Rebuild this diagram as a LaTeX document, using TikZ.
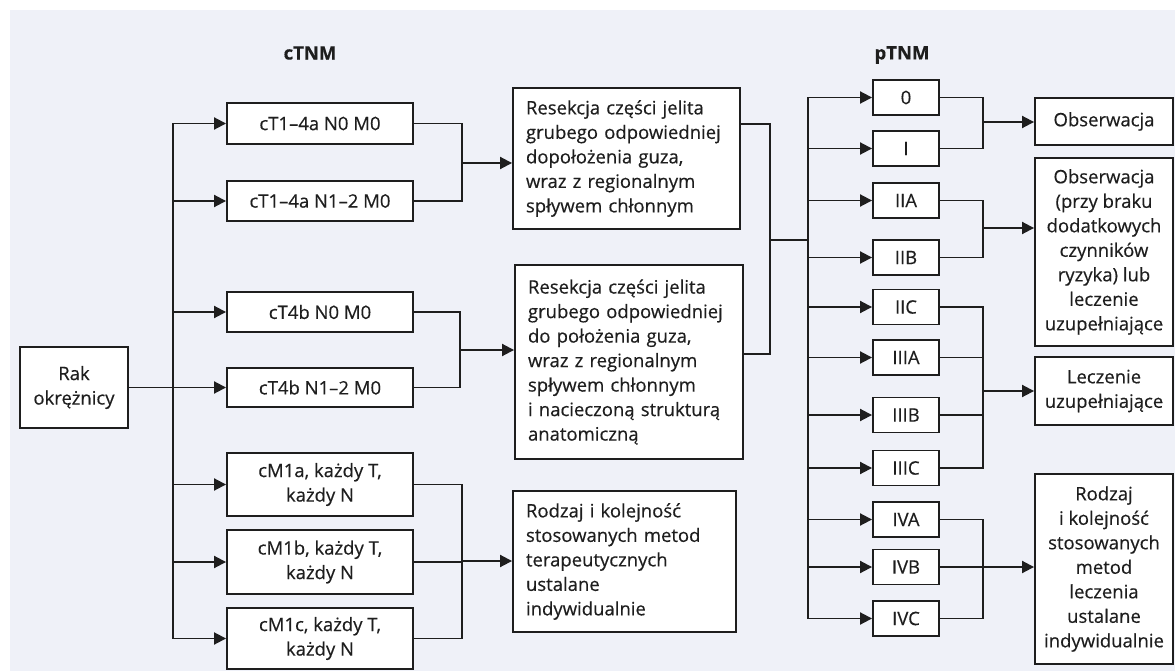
\documentclass[tikz,border=0pt]{standalone}
\usepackage{fontspec}
\setmainfont{Open Sans}[FakeBold=0.35]
\usetikzlibrary{arrows.meta}
\definecolor{panel}{RGB}{239,241,248}
\definecolor{ink}{RGB}{30,30,30}

\begin{document}
\begin{tikzpicture}[x=1pt,y=-1pt]
    \tikzstyle{every node}=[font={\fontsize{18.5}{24.5}\selectfont}, text=ink]
    \tikzstyle{box}=[draw=ink, fill=white, line width=1.9pt, inner sep=2pt, align=center]
    \tikzstyle{textbox}=[box, align=left, inner xsep=13pt]
    \tikzstyle{line}=[draw=ink, line width=1.9pt]
    \tikzstyle{arr}=[line, -{Triangle[length=12pt,width=12pt]}]
    \useasboundingbox (0,0) rectangle (1175,671);
    \fill[panel] (10,10) rectangle (1175,671);

    \node[font={\bfseries\fontsize{18.5}{24.5}\selectfont}] (ctnm) at (310,53) {cTNM};
    \node[font={\bfseries\fontsize{18.5}{24.5}\selectfont}] (ptnm) at (902,55) {pTNM};

    \node[box, minimum width=108pt, minimum height=81pt] (rak) at (74,387.5) {Rak\\okrężnicy};

    \node[box, minimum width=186pt, minimum height=41pt] (c1) at (320,123.5) {cT1–4a N0 M0};
    \node[box, minimum width=186pt, minimum height=40pt] (c2) at (320,201) {cT1–4a N1–2 M0};
    \node[box, minimum width=186pt, minimum height=40pt] (c3) at (320,312) {cT4b N0 M0};
    \node[box, minimum width=186pt, minimum height=39pt] (c4) at (320,387.5) {cT4b N1–2 M0};
    \node[box, minimum width=186pt, minimum height=63pt] (c5) at (320,484.5) {cM1a, każdy T,\\każdy N};
    \node[box, minimum width=186pt, minimum height=64pt] (c6) at (320,562) {cM1b, każdy T,\\każdy N};
    \node[box, minimum width=186pt, minimum height=61pt] (c7) at (320,638.5) {cM1c, każdy T,\\każdy N};

    \node[textbox, text width=201pt, minimum height=141pt] (res1) at (626.5,158.5)
        {Resekcja części jelita\\grubego odpowiedniej\\dopołożenia guza,\\wraz z regionalnym\\spływem chłonnym};
    \node[textbox, text width=202pt, minimum height=194pt] (res2) at (629,362)
        {Resekcja części jelita\\grubego odpowiedniej\\do położenia guza,\\wraz z regionalnym\\spływem chłonnym\\i nacieczoną strukturą\\anatomiczną};
    \node[textbox, text width=197pt, minimum height=141pt] (rodz) at (624.5,561.5)
        {Rodzaj i kolejność\\stosowanych metod\\terapeutycznych\\ustalane\\indywidualnie};

    \node[box, minimum width=66pt, minimum height=35pt] (p0) at (906,97.5) {0};
    \node[box, minimum width=66pt, minimum height=35pt] (p1) at (906,148.5) {I};
    \node[box, minimum width=66pt, minimum height=35pt] (p2a) at (906,200.5) {IIA};
    \node[box, minimum width=66pt, minimum height=35pt] (p2b) at (906,257.5) {IIB};
    \node[box, minimum width=66pt, minimum height=35pt] (p2c) at (906,307) {IIC};
    \node[box, minimum width=66pt, minimum height=35pt] (p3a) at (906,357.5) {IIIA};
    \node[box, minimum width=66pt, minimum height=35pt] (p3b) at (906,415) {IIIB};
    \node[box, minimum width=66pt, minimum height=35pt] (p3c) at (906,468) {IIIC};
    \node[box, minimum width=66pt, minimum height=35pt] (p4a) at (906,519.5) {IVA};
    \node[box, minimum width=66pt, minimum height=35pt] (p4b) at (906,567) {IVB};
    \node[box, minimum width=66pt, minimum height=35pt] (p4c) at (906,618.5) {IVC};

    \node[box, inner xsep=1pt, minimum width=138pt, minimum height=47pt] (o1) at (1104,121.5) {Obserwacja};
    \node[box, inner xsep=1pt, minimum width=138pt, minimum height=188pt] (o2) at (1104,252)
        {Obserwacja\\(przy braku\\dodatkowych\\czynników\\ryzyka) lub\\leczenie\\uzupełniające};
    \node[box, inner xsep=1pt, minimum width=138pt, minimum height=68pt] (o3) at (1104,391) {Leczenie\\uzupełniające};
    \node[box, inner xsep=1pt, minimum width=138pt, minimum height=190pt] (o4) at (1104,569)
        {Rodzaj\\i kolejność\\stosowanych\\metod\\leczenia\\ustalane\\indywidualnie};

    % cTNM
    \coordinate (split) at (173,387.5);
    \draw[line] (rak.east) -- (split);
    \foreach \n in {c1,c2,c3,c4,c5,c6,c7}
        \draw[arr] (split) |- (\n.west);

    \coordinate (j1) at (462,163);
    \coordinate (j2) at (460,350);
    \coordinate (j3) at (462,561);
    \draw[line] (c1.east) -| (j1) |- (c2.east);
    \draw[arr] (j1) -- (j1 -| res1.west);
    \draw[line] (c3.east) -| (j2) |- (c4.east);
    \draw[arr] (j2) -- (j2 -| res2.west);
    \draw[line] (c5.east) -| (j3) |- (c7.east);
    \draw[line] (c6.east) -- (c6.east -| j3);
    \draw[arr] (j3) -- (j3 -| rodz.west);

    % pTNM
    \coordinate (m) at (770,240);
    \coordinate (ptrunk) at (808,240);
    \draw[line] ([yshift=-37pt]res1.north east) -| (m);
    \draw[line] ([yshift=-90pt]res2.north east) -| (m) -- (ptrunk);
    \foreach \n in {p0,p1,p2a,p2b,p2c,p3a,p3b,p3c,p4a,p4b,p4c}
        \draw[arr] (ptrunk) |- (\n.west);

    \coordinate (k1) at (983,122);
    \coordinate (k2) at (983,228);
    \coordinate (k3) at (983,391);
    \coordinate (k4) at (983,567);
    \draw[line] (p0.east) -| (k1) |- (p1.east);
    \draw[arr] (k1) -- (k1 -| o1.west);
    \draw[line] (p2a.east) -| (k2) |- (p2b.east);
    \draw[arr] (k2) -- (k2 -| o2.west);
    \draw[line] (p2c.east) -| (k3) |- (p3c.east);
    \draw[line] (p3a.east) -- (p3a.east -| k3);
    \draw[line] (p3b.east) -- (p3b.east -| k3);
    \draw[arr] (k3) -- (k3 -| o3.west);
    \draw[line] (p4a.east) -| (k4) |- (p4c.east);
    \draw[line] (p4b.east) -- (p4b.east -| k4);
    \draw[arr] (k4) -- (k4 -| o4.west);
\end{tikzpicture}
\end{document}
